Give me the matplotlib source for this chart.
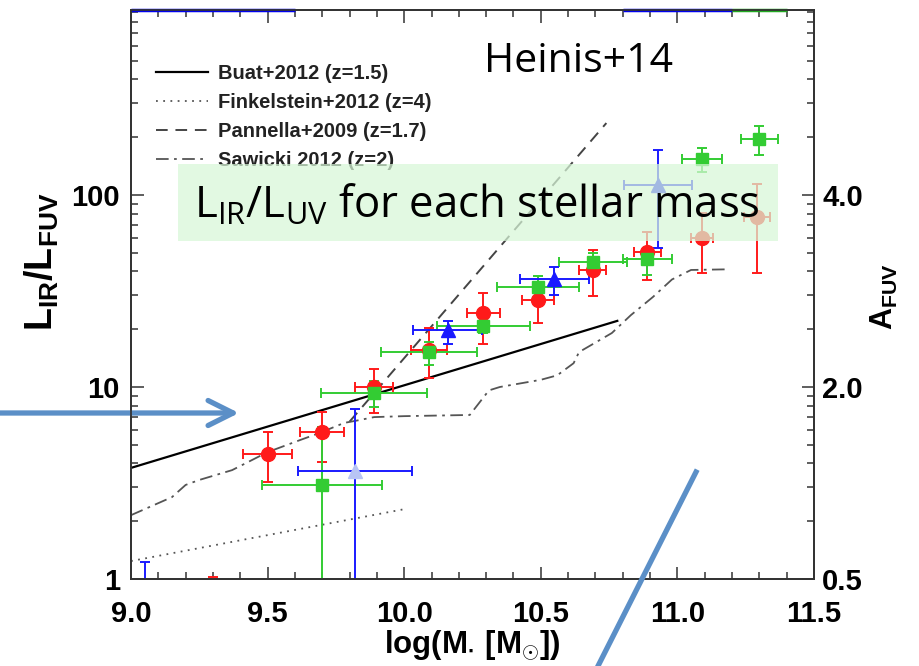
import numpy as np
import matplotlib
matplotlib.use("Agg")
import matplotlib.pyplot as plt
from matplotlib.patches import Rectangle

plt.rcParams['font.family'] = ['Liberation Sans', 'DejaVu Sans']
plt.rcParams['mathtext.fontset'] = 'custom'
plt.rcParams['mathtext.rm'] = 'Open Sans'
plt.rcParams['mathtext.bf'] = 'Liberation Sans:bold'

# ---- data ----
# red circles
red_x = [9.50, 9.70, 9.89, 10.09, 10.29, 10.49, 10.69, 10.89, 11.09, 11.29, 9.30]
red_y = [4.5, 5.8, 10.0, 15.6, 24.3, 28.4, 40.7, 50.5, 59.7, 76.8, 0.85]
red_lo = [3.2, 4.07, 7.3, 11.1, 16.7, 21.5, 29.8, 36.0, 39.3, 39.3, 0.8]
red_hi = [5.83, 7.4, 12.4, 20.3, 30.9, 34.8, 51.7, 64.0, 80.5, 114.0, 1.02]
red_xe = [0.09, 0.08, 0.07, 0.065, 0.06, 0.057, 0.05, 0.05, 0.04, 0.048, 0.0]

# green squares
grn_x = [9.70, 9.89, 10.09, 10.29, 10.49, 10.69, 10.89, 11.09, 11.30]
grn_y = [3.1, 9.3, 15.2, 20.8, 33.2, 44.8, 46.4, 154.0, 196.0]
grn_lo = [0.5, 7.9, 13.0, 19.1, 30.9, 40.0, 38.3, 132.0, 162.0]
grn_hi = [6.2, 10.8, 17.1, 22.9, 37.9, 50.0, 53.0, 176.0, 229.0]
grn_xe = [0.22, 0.195, 0.175, 0.17, 0.15, 0.125, 0.09, 0.073, 0.068]

# blue triangles
blu_x = [10.16, 10.55, 10.93, 9.05]
blu_y = [19.8, 36.5, 113.0, 0.9]
blu_lo = [16.7, 30.1, 53.0, 0.8]
blu_hi = [22.1, 42.2, 171.0, 1.23]
blu_xe = [0.126, 0.126, 0.125, 0.0]
# faint blue triangle
blu2_x, blu2_y, blu2_lo, blu2_hi, blu2_xe = 9.82, 3.65, 0.5, 7.68, 0.21

# literature relations
buat_x = [9.0, 10.78]
buat_y = [3.79, 22.1]
fink_x = [9.0, 10.0]
fink_y = [1.24, 2.31]
pann_x = [9.80, 10.74]
pann_y = [6.6, 237.0]
saw_x = [9.0, 9.15, 9.20, 9.25, 9.37, 9.50, 9.62, 9.69, 9.78, 9.83, 9.89, 10.0, 10.24,
         10.31, 10.35, 10.50, 10.56, 10.62, 10.64, 10.76, 10.83, 10.91, 10.98, 11.05, 11.18]
saw_y = [2.15, 2.67, 3.09, 3.28, 3.69, 4.58, 5.3, 5.76, 6.5, 6.7, 6.97, 7.05, 7.15,
         9.6, 10.0, 10.9, 11.5, 13.3, 15.2, 19.1, 23.7, 29.4, 36.3, 40.7, 41.0]

# bars stuck on the top edge (points above the plotted range)
top_x0 = [9.0, 10.8, 11.2]
top_x1 = [9.6, 11.2, 11.4]
top_col = ['#0000ee', '#0000ee', '#22aa22']

afuv_ticks = [1, 10, 100]
afuv_labels = ['0.5', '2.0', '4.0']
ymax = 10 ** (569 / 192)

RED = '#ff1a1a'
GRN = '#33cc33'
BLU = '#1a1aff'

fig = plt.figure(figsize=(9.2, 6.66), dpi=100)
ax = fig.add_axes([131 / 920, 1 - 579 / 666, 683 / 920, 569 / 666])
ax.set_yscale('log')
ax.set_xlim(9.0, 11.5)
ax.set_ylim(1, ymax)

ax.plot(buat_x, buat_y, color='black', lw=1.6, label='Buat+2012 (z=1.5)')
ax.plot(fink_x, fink_y, color='#555555', lw=1.3, ls=(0, (1, 3)), label='Finkelstein+2012 (z=4)')
ax.plot(pann_x, pann_y, color='#444444', lw=1.4, ls=(0, (6, 4)), label='Pannella+2009 (z=1.7)')
ax.plot(saw_x, saw_y, color='#555555', lw=1.3, ls=(0, (7, 3, 1.5, 3)), label='Sawicki 2012 (z=2)')


def errs(y, lo, hi):
    y = np.array(y)
    return [y - np.array(lo), np.array(hi) - y]


ekw = dict(ls='none', capsize=3.5, elinewidth=1.4, capthick=1.4, zorder=4)
ax.errorbar(red_x, red_y, yerr=errs(red_y, red_lo, red_hi), xerr=red_xe, fmt='o',
            color=RED, ms=10, **ekw)
ax.errorbar(grn_x, grn_y, yerr=errs(grn_y, grn_lo, grn_hi), xerr=grn_xe, fmt='s',
            color=GRN, ms=9, **ekw)
ax.errorbar(blu_x, blu_y, yerr=errs(blu_y, blu_lo, blu_hi), xerr=blu_xe, fmt='^',
            color=BLU, ms=10, **ekw)
ax.errorbar([blu2_x], [blu2_y], yerr=[[blu2_y - blu2_lo], [blu2_hi - blu2_y]], xerr=[blu2_xe],
            fmt='^', color=BLU, mfc='#b8c4f4', mec='#b8c4f4', ms=10, **ekw)

for x0, x1, c in zip(top_x0, top_x1, top_col):
    ax.hlines(ymax, x0, x1, colors=c, lw=2.5, clip_on=False, zorder=6)

# axes styling
for s in ax.spines.values():
    s.set_color('#333333')
    s.set_linewidth(1.3)
ax.set_xticks([9.0, 9.5, 10.0, 10.5, 11.0, 11.5])
ax.set_xticklabels(['9.0', '9.5', '10.0', '10.5', '11.0', '11.5'])
ax.set_xticks(np.arange(9.0, 11.5, 0.1), minor=True)
ax.set_yticks([1, 10, 100])
ax.set_yticklabels(['1', '10', '100'])
ax.tick_params(which='both', direction='in', top=True, right=False, color='#333333', width=1.1)
ax.tick_params(which='major', length=9, labelsize=21)
ax.tick_params(axis='x', which='major', pad=15)
ax.tick_params(axis='y', which='major', pad=8)
ax.tick_params(which='minor', length=5)
for lab in ax.get_xticklabels() + ax.get_yticklabels():
    lab.set_fontweight('bold')

ax2 = ax.twinx()
ax2.set_yscale('log')
ax2.set_ylim(1, ymax)
ax2.set_yticks(afuv_ticks)
ax2.set_yticklabels(afuv_labels)
ax2.tick_params(which='both', direction='in', color='#333333', width=1.1)
ax2.tick_params(which='major', length=9, labelsize=21, pad=6)
ax2.tick_params(which='minor', length=5)
for lab in ax2.get_yticklabels():
    lab.set_fontweight('bold')
for s in ax2.spines.values():
    s.set_color('#333333')
    s.set_linewidth(1.3)

ax.set_xlabel(r'$\mathbf{log(M_{\bullet}\ [M_{\odot}])}$', fontsize=22.5)
ax.xaxis.set_label_coords(0.5, -(645 - 579) / 569)
ax.xaxis.label.set_va('center')
ax.set_ylabel(r'$\mathbf{L_{IR}/L_{FUV}}$', fontsize=27)
ax.yaxis.set_label_coords(-(131 - 42) / 683, (579 - 262) / 569)
ax.yaxis.label.set_va('center')
ax2.set_ylabel(r'$\mathbf{A_{FUV}}$', fontsize=22)
ax2.yaxis.set_label_coords(1 + (884 - 814) / 683, (579 - 297) / 569)
ax2.yaxis.label.set_va('center')

leg = ax.legend(loc='upper left', bbox_to_anchor=(138 / 920, 1 - 46 / 666),
                bbox_transform=fig.transFigure, frameon=False, handlelength=2.6,
                handletextpad=0.45, labelspacing=0.5, prop={'weight': 'bold', 'size': 14.5})
for t in leg.get_texts():
    t.set_color('#222222')

# overlay annotations
fig.text(579 / 920, 1 - 62 / 666, 'Heinis+14', fontsize=29.5, family='Open Sans',
         ha='center', va='center')
fig.patches.append(Rectangle((178 / 920, 1 - 241 / 666), 600 / 920, 77 / 666,
                             transform=fig.transFigure, facecolor='#d8f7d8', alpha=0.72,
                             edgecolor='none', zorder=10))
fig.text(477 / 920, 1 - 206 / 666, r'$\mathrm{L_{IR}/L_{UV}}$ for each stellar mass',
         fontsize=31.5, family='Open Sans', ha='center', va='center', zorder=11)

ax.annotate('', xy=(239 / 920, 1 - 413 / 666), xytext=(0, 1 - 413 / 666),
            xycoords='figure fraction', textcoords='figure fraction',
            arrowprops=dict(arrowstyle='->,head_length=0.9,head_width=0.45', color='#5b8fc7',
                            lw=3.8, mutation_scale=20, shrinkA=0, shrinkB=0), zorder=12)
fig.add_artist(plt.Line2D([696 / 920, 596 / 920], [1 - 472 / 666, 1 - 670 / 666],
                          transform=fig.transFigure, color='#5b8fc7', lw=3.8, zorder=12))

fig.savefig('out.png', dpi=100)
